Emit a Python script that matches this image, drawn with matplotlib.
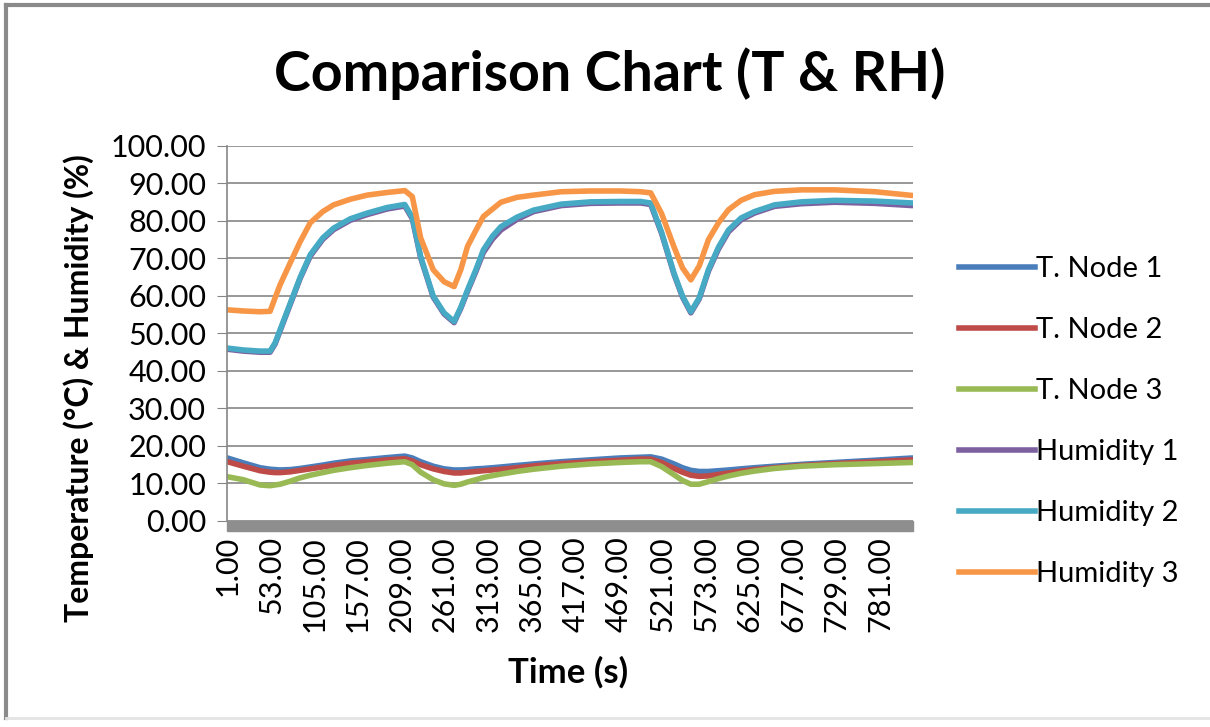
import matplotlib.pyplot as plt
from matplotlib.lines import Line2D
from matplotlib.patches import Rectangle
import numpy as np

# Data
time_s = [1, 20, 40, 52, 58, 64, 76, 88, 100, 115, 128, 148, 168, 192, 213,
          222, 232, 247, 260, 272, 280, 288, 298, 307, 318, 328, 347, 367,
          400, 435, 470, 495, 507, 520, 535, 545, 555, 565, 576, 588, 600,
          615, 631, 655, 687, 727, 775, 820]

t_node1 = [16.8, 15.5, 14.2, 13.8, 13.7, 13.6, 13.7, 14.0, 14.4, 14.9, 15.4,
           16.0, 16.4, 16.9, 17.3, 16.8, 15.8, 14.6, 13.9, 13.6, 13.6, 13.7,
           13.9, 14.0, 14.2, 14.4, 14.8, 15.2, 15.8, 16.3, 16.8, 17.0, 17.1,
           16.5, 15.2, 14.2, 13.5, 13.2, 13.2, 13.4, 13.6, 13.9, 14.2, 14.6,
           15.1, 15.6, 16.2, 16.8]
t_node2 = [15.8, 14.6, 13.4, 13.0, 12.9, 12.9, 13.1, 13.5, 13.9, 14.4, 14.8,
           15.4, 15.8, 16.3, 16.6, 16.0, 15.0, 13.9, 13.2, 12.8, 12.8, 13.0,
           13.2, 13.4, 13.6, 13.8, 14.2, 14.7, 15.3, 15.8, 16.2, 16.5, 16.5,
           15.6, 14.0, 13.0, 12.2, 11.9, 12.0, 12.4, 12.8, 13.3, 13.7, 14.2,
           14.8, 15.3, 15.8, 16.3]
t_node3 = [11.8, 11.0, 9.6, 9.4, 9.6, 9.8, 10.6, 11.5, 12.2, 12.9, 13.5,
           14.2, 14.8, 15.4, 15.8, 15.0, 13.0, 11.0, 9.9, 9.5, 9.8, 10.4,
           11.0, 11.6, 12.1, 12.5, 13.2, 13.8, 14.6, 15.2, 15.6, 15.8, 15.8,
           14.5, 12.3, 10.8, 9.8, 9.8, 10.5, 11.3, 12.0, 12.7, 13.3, 14.0,
           14.6, 15.0, 15.3, 15.6]
humidity1 = [45.8, 45.3, 45.0, 45.0, 47.2, 50.7, 57.7, 64.7, 70.6, 75.1, 77.7,
             80.2, 81.7, 83.2, 84.0, 80.6, 70.2, 59.7, 55.2, 52.9, 56.7, 61.2,
             66.5, 71.6, 75.2, 77.6, 80.4, 82.5, 84.1, 84.7, 84.8, 84.8, 84.4,
             76.7, 65.7, 59.7, 55.5, 59.2, 66.6, 72.5, 77.1, 80.3, 82.1, 83.9,
             84.6, 85.0, 84.7, 84.1]
humidity2 = [46.1, 45.6, 45.3, 45.3, 47.5, 51.0, 58.0, 65.0, 71.0, 75.5, 78.1,
             80.6, 82.1, 83.6, 84.4, 81.0, 70.5, 60.0, 55.5, 53.2, 57.0, 61.6,
             67.0, 72.3, 76.0, 78.5, 81.0, 82.9, 84.5, 85.1, 85.2, 85.2, 84.8,
             77.0, 66.0, 60.0, 55.8, 59.5, 67.0, 73.0, 77.6, 80.8, 82.5, 84.3,
             85.1, 85.5, 85.3, 84.8]
humidity3 = [56.3, 56.0, 55.8, 55.9, 59.5, 63.0, 68.8, 74.5, 79.5, 82.5, 84.3,
             85.8, 86.9, 87.6, 88.1, 86.5, 75.5, 67.0, 63.8, 62.5, 67.0, 73.2,
             77.5, 81.2, 83.2, 85.0, 86.3, 86.9, 87.8, 88.0, 88.0, 87.8, 87.5,
             82.0, 73.0, 67.5, 64.3, 68.0, 75.0, 79.5, 83.0, 85.5, 87.0, 87.9,
             88.3, 88.3, 87.8, 86.8]

series = [
    ("T. Node 1", t_node1, "#4a7ebb"),
    ("T. Node 2", t_node2, "#be4b48"),
    ("T. Node 3", t_node3, "#98b954"),
    ("Humidity 1", humidity1, "#7d60a0"),
    ("Humidity 2", humidity2, "#46aac5"),
    ("Humidity 3", humidity3, "#f79646"),
]

tick_times = np.arange(1, 782, 52)

plt.rcParams["font.family"] = ["Lato", "DejaVu Sans"]

fig = plt.figure(figsize=(12.1, 7.27), dpi=100)
ax = fig.add_axes([0.1876, 0.2834, 0.5669, 0.5158])

for name, vals, col in series:
    ax.plot(time_s, vals, color=col, lw=4.0, label=name, solid_capstyle="round")

ax.set_xlim(0.5, 820.5)
ax.set_ylim(0, 100)
ax.set_yticks(np.arange(0, 101, 10))
ax.set_yticklabels([f"{v:.2f}" for v in range(0, 101, 10)], fontsize=22)
ax.set_xticks(tick_times)
ax.set_xticklabels([f"{v:.2f}" for v in tick_times], rotation=90, fontsize=22)
ax.tick_params(axis="y", length=7, color="#868686", pad=8)
ax.tick_params(axis="x", length=0, pad=11)
ax.grid(axis="y", color="#868686", lw=1.2)
ax.set_axisbelow(True)
for s in ["top", "right", "bottom"]:
    ax.spines[s].set_visible(False)
ax.spines["left"].set_color("#868686")
ax.spines["left"].set_linewidth(1.2)

# thick grey band along the category axis
ax.add_patch(Rectangle((0, -0.028), 1, 0.028, transform=ax.transAxes,
                       clip_on=False, color="#8e8e8e", zorder=3))

ax.set_ylabel("Temperature (\u00b0C) & Humidity (%)", fontsize=23,
              fontweight="bold")
ax.yaxis.set_label_coords(-0.194, 0.355)
ax.set_xlabel("Time (s)", fontsize=25, fontweight="bold")
ax.xaxis.set_label_coords(0.497, -0.36)
fig.suptitle("Comparison Chart (T & RH)", fontsize=40, fontweight="bold",
             x=0.504, y=0.935)

handles = [Line2D([0], [0], color=c, lw=4) for _, _, c in series]
fig.legend(handles, [n for n, _, _ in series], loc="center left",
           bbox_to_anchor=(0.771, 0.420), frameon=False, fontsize=21,
           handlelength=2.6, handletextpad=0.05, labelspacing=1.2)

# chart border
fig.add_artist(Line2D([0.005, 0.005], [0.012, 0.993], color="#8a8a8a", lw=3,
                      transform=fig.transFigure))
fig.add_artist(Line2D([0.005, 1.0], [0.993, 0.993], color="#8a8a8a", lw=3,
                      transform=fig.transFigure))
fig.add_artist(Line2D([0.005, 1.0], [0.012, 0.012], color="#e4e4e4", lw=2,
                      transform=fig.transFigure))

fig.savefig("out.png", dpi=100)
